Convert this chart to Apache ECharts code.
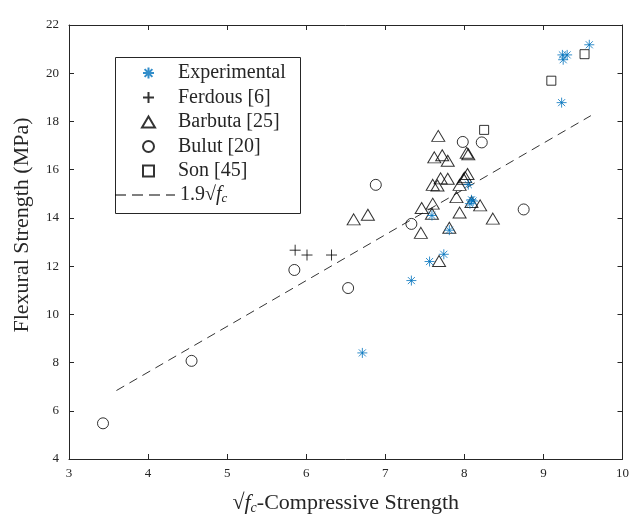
<!DOCTYPE html>
<html>
<head>
<meta charset="utf-8">
<script src="https://cdn.jsdelivr.net/npm/echarts@6/dist/echarts.min.js"></script>
<style>html,body{margin:0;padding:0;background:#fff}#c{width:632px;height:520px}</style>
</head>
<body>
<div id="c"></div>
<script>
// ---- data (x = sqrt(fc), y = flexural strength MPa) ----
const experimentalX = [9.58, 9.24, 9.30, 9.25, 9.23, 8.05, 8.09, 8.11, 8.07, 7.59, 7.81, 7.56, 7.74, 7.33, 6.71];
const experimentalY = [21.18, 20.76, 20.76, 20.56, 18.78, 15.38, 14.75, 14.70, 14.59, 14.10, 13.49, 12.19, 12.49, 11.40, 8.40];

const ferdousX = [5.86, 6.01, 6.32];
const ferdousY = [12.66, 12.46, 12.46];

const barbutaX = [7.67, 8.03, 8.05, 7.62, 7.72, 7.79, 7.70, 7.79, 7.60, 7.66, 8.04, 8.01, 7.99, 7.94, 7.90, 8.09, 8.20, 7.46, 7.60, 7.59, 7.94, 8.36, 7.45, 7.81, 7.68, 6.60, 6.78];
const barbutaY = [17.40, 16.70, 16.64, 16.51, 16.60, 16.37, 15.64, 15.62, 15.37, 15.34, 15.82, 15.69, 15.62, 15.37, 14.86, 14.66, 14.52, 14.41, 14.59, 14.17, 14.22, 13.97, 13.38, 13.59, 12.21, 13.94, 14.13];

const bulutX = [3.43, 4.55, 5.85, 6.53, 7.33, 6.88, 7.98, 8.22, 8.75];
const bulutY = [5.48, 8.07, 11.84, 11.09, 13.75, 15.37, 17.15, 17.13, 14.35];

const sonX = [8.25, 9.10, 9.52];
const sonY = [17.65, 19.69, 20.79];

const lineX = [3.6, 9.6];
const lineY = [6.84, 18.24];

const xTicks = [3, 4, 5, 6, 7, 8, 9, 10];
const yTicks = [4, 6, 8, 10, 12, 14, 16, 18, 20, 22];

const seriesNames = ['Experimental', 'Ferdous [6]', 'Barbuta [25]', 'Bulut [20]', 'Son [45]', 'line'];

// ---- build ----
const zip = (a, b) => a.map((v, i) => [v, b[i]]);
const SERIF = '"Liberation Serif", "DejaVu Serif", serif';
const AX = '#262626';
const BLUE = '#0072BD';
const asterisk = 'path://M0,-10L0,10M-10,0L10,0M-7.07,-7.07L7.07,7.07M-7.07,7.07L7.07,-7.07';
const plus = 'path://M0,-10L0,10M-10,0L10,0';
const squareIcon = 'path://M0,0h10v10h-10z';
const dashIcon = 'path://M0,0h11v1h-11zM17,0h11v1h-11zM34,0h11v1h-11zM51,0h9v1h-9z';

const chart = echarts.init(document.getElementById('c'), null, {renderer: 'canvas'});

const axisCommon = {
  axisLine: {show: true, onZero: false, lineStyle: {color: AX, width: 1}},
  axisTick: {show: true, inside: true, length: 5, lineStyle: {color: AX}},
  splitLine: {show: false},
};

const legendText = {fontFamily: SERIF, fontSize: 20, color: AX, lineHeight: 20};

const option = {
  animation: false,
  backgroundColor: '#fff',
  grid: {left: 69, top: 25, right: 6, bottom: 58, containLabel: false},
  graphic: [{
    type: 'rect', left: 115, top: 57, z: 3,
    shape: {width: 185, height: 156},
    style: {fill: '#fff', stroke: AX, lineWidth: 1}
  }],
  xAxis: [
    Object.assign({}, axisCommon, {
      type: 'value', position: 'bottom', min: xTicks[0], max: xTicks[xTicks.length - 1], interval: 1,
      axisLabel: {color: AX, fontFamily: SERIF, fontSize: 13, margin: 8},
      name: '{r|√}{f|f}{c|c}{t|-Compressive Strength}',
      nameLocation: 'middle', nameGap: 32,
      nameTextStyle: {
        color: AX, fontFamily: SERIF, fontSize: 22,
        rich: {
          r: {fontFamily: SERIF, fontSize: 22, color: AX},
          f: {fontFamily: SERIF, fontSize: 22, fontStyle: 'italic', color: AX},
          c: {fontFamily: SERIF, fontSize: 14, fontStyle: 'italic', color: AX, padding: [10, 0, 0, 0]},
          t: {fontFamily: SERIF, fontSize: 22, color: AX}
        }
      }
    }),
    Object.assign({}, axisCommon, {
      type: 'value', position: 'top', min: xTicks[0], max: xTicks[xTicks.length - 1], interval: 1,
      axisLabel: {show: false}
    })
  ],
  yAxis: [
    Object.assign({}, axisCommon, {
      type: 'value', position: 'left', min: yTicks[0], max: yTicks[yTicks.length - 1], interval: 2,
      axisLabel: {color: AX, fontFamily: SERIF, fontSize: 13, margin: 10},
      name: 'Flexural Strength (MPa)', nameLocation: 'middle', nameGap: 36,
      nameTextStyle: {color: AX, fontFamily: SERIF, fontSize: 22, padding: [0, 0, 0, 34]}
    }),
    Object.assign({}, axisCommon, {
      type: 'value', position: 'right', min: yTicks[0], max: yTicks[yTicks.length - 1], interval: 2,
      axisLabel: {show: false}
    })
  ],
  legend: [{
    orient: 'vertical', left: 141, top: 63, z: 4,
    data: [
      {name: seriesNames[0]},
      {name: seriesNames[1]},
      {name: seriesNames[2], icon: 'triangle'},
      {name: seriesNames[3], icon: 'circle'},
      {name: seriesNames[4], icon: squareIcon}
    ],
    itemWidth: 13, itemHeight: 11, itemGap: 4.5, padding: 0,
    textStyle: Object.assign({}, legendText, {rich: {n: Object.assign({}, legendText, {padding: [0, 0, 0, 18]})}}),
    formatter: n => '{n|' + n + '}'
  }, {
    orient: 'vertical', left: 115, top: 185, z: 4,
    data: [{name: seriesNames[5], icon: dashIcon, itemStyle: {color: '#000', borderWidth: 0}}],
    itemWidth: 60, itemHeight: 11, padding: 0,
    textStyle: Object.assign({}, legendText, {
      rich: {
        a: Object.assign({}, legendText, {padding: [0, 0, 0, 0]}),
        f: Object.assign({}, legendText, {fontStyle: 'italic'}),
        c: {fontFamily: SERIF, fontSize: 13, fontStyle: 'italic', color: AX, padding: [8, 0, 0, 0]}
      }
    }),
    formatter: () => '{a|1.9√}{f|f}{c|c}'
  }],
  series: [
    {name: seriesNames[0], type: 'scatter', data: zip(experimentalX, experimentalY), symbol: asterisk, symbolSize: 10,
      itemStyle: {color: BLUE, borderColor: BLUE, borderWidth: 1}, z: 5},
    {name: seriesNames[1], type: 'scatter', data: zip(ferdousX, ferdousY), symbol: plus, symbolSize: 11,
      itemStyle: {color: '#000', borderColor: '#000', borderWidth: 1}},
    {name: seriesNames[2], type: 'scatter', data: zip(barbutaX, barbutaY), symbol: 'triangle', symbolSize: [13, 11],
      itemStyle: {color: 'rgba(0,0,0,0)', borderColor: '#000', borderWidth: 1}},
    {name: seriesNames[3], type: 'scatter', data: zip(bulutX, bulutY), symbol: 'circle', symbolSize: 11,
      itemStyle: {color: 'rgba(0,0,0,0)', borderColor: '#000', borderWidth: 1}},
    {name: seriesNames[4], type: 'scatter', data: zip(sonX, sonY), symbol: 'rect', symbolSize: 9,
      itemStyle: {color: 'rgba(0,0,0,0)', borderColor: '#000', borderWidth: 1}},
    {name: seriesNames[5], type: 'line', data: zip(lineX, lineY), symbol: 'none', showSymbol: false,
      lineStyle: {color: '#000', width: 0.8, type: [9, 6]}, itemStyle: {color: '#000'}, z: 1}
  ]
};
chart.setOption(option);
</script>
</body>
</html>
